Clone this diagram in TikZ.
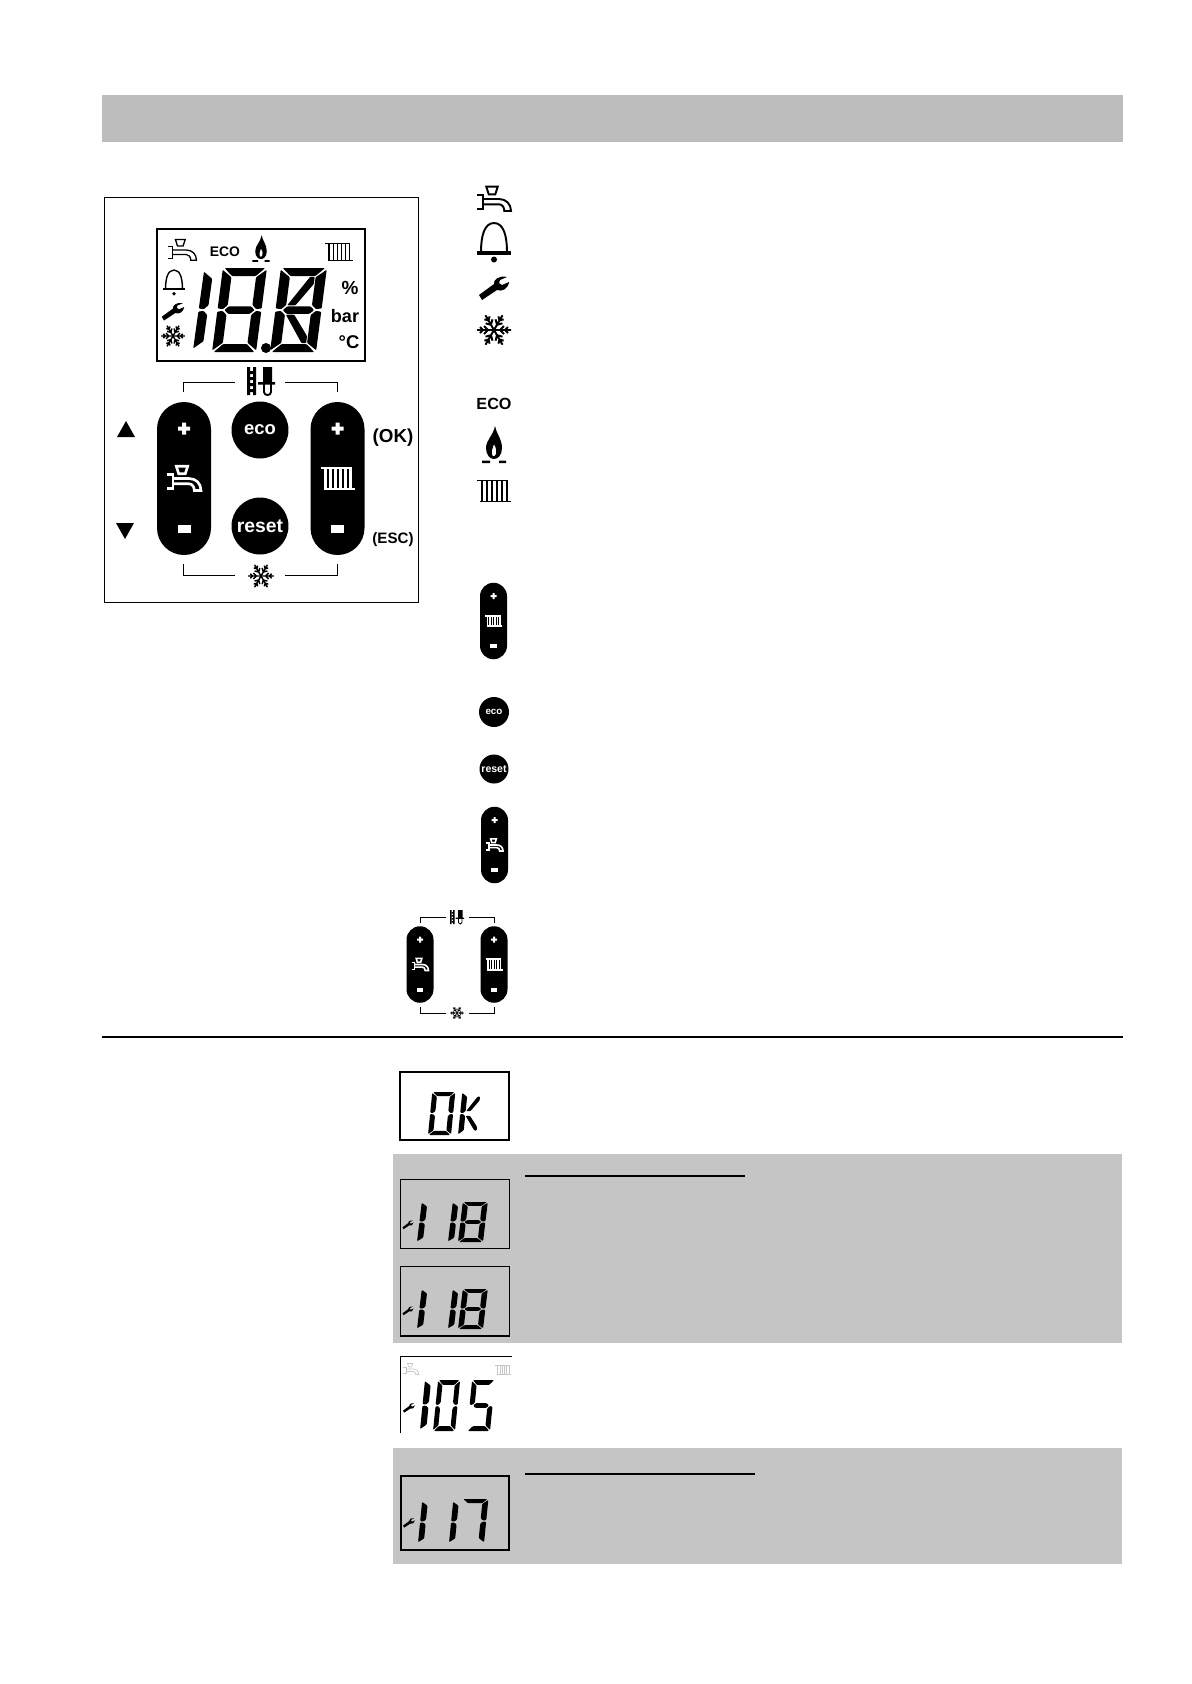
\documentclass[tikz,border=0pt]{standalone}
\usepackage{fontspec}
\setmainfont{Liberation Sans}
\usetikzlibrary{positioning}

\definecolor{barGrey}{HTML}{BDBDBD}
\definecolor{panelGrey}{HTML}{C5C5C5}

\tikzset{
    lcdframe/.style     = {draw=black, line width=1.1pt},
    thinframe/.style    = {draw=black, line width=0.45pt},
    iconline/.style     = {line width=1.1pt},
    keycirc/.style      = {circle, fill=black, text=white, inner sep=0pt, font=\bfseries},
    labeltext/.style    = {inner sep=0pt, font=\bfseries},
    % the seven segments, plus two diagonals, of a unit digit 1 wide, 2 high
    sega/.pic = {\fill (.04,2) -- (.96,2) -- (.77,1.81) -- (.23,1.81) -- cycle;},
    segb/.pic = {\fill (1,1.96) -- (1,1.04) -- (.88,1.02) -- (.78,1.12) -- (.78,1.78) -- cycle;},
    segc/.pic = {\fill (1,.96) -- (.88,.98) -- (.78,.88) -- (.78,.22) -- (1,.04) -- cycle;},
    segd/.pic = {\fill (.04,0) -- (.96,0) -- (.77,.19) -- (.23,.19) -- cycle;},
    sege/.pic = {\fill (0,.04) -- (.22,.22) -- (.22,.88) -- (.12,.98) -- (0,.96) -- cycle;},
    segf/.pic = {\fill (0,1.96) -- (.22,1.78) -- (.22,1.12) -- (.12,1.02) -- (0,1.04) -- cycle;},
    segg/.pic = {\fill (.16,1) -- (.25,1.09) -- (.75,1.09) -- (.84,1) -- (.75,.91) -- (.25,.91) -- cycle;},
    segh/.pic = {\fill (.24,1.11) -- (.42,1.11) -- (.76,1.62) -- (.76,1.79) -- (.66,1.79) -- cycle;},
    segi/.pic = {\fill (.24,.89) -- (.42,.89) -- (.76,.38) -- (.76,.21) -- (.66,.21) -- cycle;},
    % icons, drawn 34 wide round their centre
    tap/.pic = {
        \draw (-7.7,-12.3) -- (3.7,-12.3) -- (1.3,-4.7) -- (-5.3,-4.7) -- cycle;
        \draw (-17,-4) -- (-11,-4) -- (-11,9.7) -- (-17,9.7);
        \draw (-11,0) -- (5,0) .. controls (12,0) and (17,5) .. (17,12) -- (10.3,12)
              .. controls (10.3,8) and (8,5.3) .. (5,5.3) -- (-11,5.3);
    },
    bell/.pic = {
        \draw (-13,9) .. controls (-13,-6) and (-10,-20) .. (0,-20)
              .. controls (10,-20) and (13,-6) .. (13,9);
        \fill (-17,8) rectangle (17,11.5);
        \fill (0,16.5) circle (3);
    },
    wrench/.pic = {
        \fill (-15,9) -- (-12,14) -- (3,4) .. controls (8,6) and (14,3) .. (15,-4) -- (8,-1)
              -- (5,-3) -- (6,-6) -- (13,-9) .. controls (5,-11) and (-1,-6) .. (0,-2) -- cycle;
    },
    snow/.pic = {
        \foreach \ang in {0,60,...,300} {
            \draw[rotate=\ang] (0,0) -- (17,0) (6,0) -- (10,4) (6,0) -- (10,-4)
                               (11,0) -- (14,3) (11,0) -- (14,-3);
        }
    },
    flame/.pic = {
        \fill[even odd rule] (1,-19) .. controls (2,-12) and (8,-6) .. (8,3)
              .. controls (8,10) and (4,14) .. (0,14) .. controls (-4,14) and (-8,10) .. (-8,3)
              .. controls (-8,-5) and (-1,-9) .. (1,-19) -- cycle
              (0,-1) .. controls (2,3) and (3,6) .. (2,9) .. controls (1,12) and (-2,12) .. (-2,9)
              .. controls (-3,6) and (-1,3) .. (0,-1) -- cycle;
        \fill (-12,15.5) rectangle (-4,18) (5,15.5) rectangle (12,18);
    },
    radiator/.pic = {
        \draw (-17,-10.5) -- (14,-10.5) (-14,10.5) -- (17,10.5);
        \foreach \xr in {-12,-7,-2,3,8,13} {
            \draw (\xr,-10.5) -- (\xr,10.5);
        }
    },
    brush/.pic = {
        \fill (-14,-14) rectangle (-11,14) (-8,-14) rectangle (-5,14);
        \fill (-11,-10) rectangle (-8,-7) (-11,-4) rectangle (-8,-1)
              (-11,2) rectangle (-8,5) (-11,8) rectangle (-8,11);
        \fill (2,-14) rectangle (11,2) (-3,1) rectangle (14,3.5);
        \draw (3,3) -- (3,11) .. controls (3,15) and (10,15) .. (10,11) -- (10,3);
    },
    % black key, white plus on top, white minus below, an icon between
    pill/.pic = {
        \fill[black] (-27,-49.5) arc[start angle=180, end angle=360, radius=27] -- (27,49.5)
                     arc[start angle=0, end angle=180, radius=27] -- cycle;
        \fill[white] (-2,-56) rectangle (2,-44) (-6,-52) rectangle (6,-48);
        \fill[white] (-6.5,46) rectangle (6.5,54);
        \pic[white, transform shape] at (0,0) {#1};
    },
}

% left, bottom, width, height, slant, segments
\newcommand{\lcddigit}[6]{
    \begin{scope}[shift={(#1,#2)}, x=#3*0.02cm, y=#4*0.01cm, xslant=#5, rounded corners=0.5pt]
        \foreach \s in {#6} {\pic[transform shape] {seg\s};}
    \end{scope}
}

\begin{document}
\begin{tikzpicture}[x=0.02cm, y=-0.02cm]
    \useasboundingbox (0,0) rectangle (1191,1684);

    \fill       [barGrey]           (102,95) rectangle (1123,142);      % Top bar
    \draw       [thinframe]         (104,197) rectangle (418,602);      % Panel frame

    % Display of the panel
    \draw       [lcdframe]          (157,229) rectangle (365,361);
    \pic        [line width=0.75pt, scale=.85]          at (182,250) {tap};
    \pic        [line width=0.8pt, scale=.65]           at (174,283) {bell};
    \pic        [scale=.75]                             at (173,310) {wrench};
    \pic        [line width=0.8pt, scale=.7]            at (173,336) {snow};
    \pic        [scale=.72]                             at (261,249) {flame};
    \pic        [line width=0.8pt, scale=.82]           at (339,252) {radiator};
    \node       [labeltext, font=\bfseries\fontsize{7.9}{9}\selectfont] (lcdeco)  at (225,252) {ECO};
    \node       [labeltext, font=\bfseries\fontsize{10.8}{12}\selectfont] (lcdpct) at (350,288) {\%};
    \node       [labeltext, font=\bfseries\fontsize{10.3}{12}\selectfont] (lcdbar) at (345,316) {bar};
    \node       [labeltext, font=\bfseries\fontsize{10.5}{12}\selectfont] (lcddeg) at (349,342) {°C};
    \lcddigit{193}{350}{42}{80}{.14}{e,f}
    \lcddigit{212}{352}{44}{84}{.13}{a,b,c,d,e,f,g}
    \lcddigit{270}{352}{46}{84}{.13}{a,b,c,d,e,f,g,h,i}
    \fill                           (266,348) circle (5);               % Decimal point

    % Keys of the panel
    \pic        [line width=1.5pt] at (184,478.5) {pill=tap};
    \pic        [line width=1.6pt] at (337.5,478.5) {pill=radiator};
    \node       [keycirc, minimum size=1.14cm, font=\bfseries\fontsize{10.5}{12}\selectfont] (ecokey)   at (260,430) {\raisebox{-1pt}{eco}};
    \node       [keycirc, minimum size=1.14cm, font=\bfseries\fontsize{11}{12}\selectfont]   (resetkey) at (260,526) {reset};

    \draw       [thinframe]         (183,392) -- (183,382) -- (235,382);    % Upper bracket
    \draw       [thinframe]         (285,382) -- (337,382) -- (337,392);
    \draw       [thinframe]         (183,564) -- (183,575) -- (235,575);    % Lower bracket
    \draw       [thinframe]         (285,575) -- (337,575) -- (337,564);
    \pic        [line width=1.1pt]  at (261,381) {brush};
    \pic        [line width=0.8pt, scale=.76] at (261,576) {snow};

    \fill                           (117,437) -- (135,437) -- (126,421) -- cycle;   % Arrow up
    \fill                           (116,523) -- (134,523) -- (125,539) -- cycle;   % Arrow down
    \node       [labeltext, font=\bfseries\fontsize{10.7}{12}\selectfont] (oklabel)  at (393,438) {(OK)};
    \node       [labeltext, font=\bfseries\fontsize{8.6}{10}\selectfont]  (esclabel) at (393,540) {(ESC)};

    % Column of symbols
    \pic        [iconline]          at (494,199) {tap};
    \pic        [iconline]          at (494,243) {bell};
    \pic        at (494,286) {wrench};
    \pic        [iconline]          at (494,330) {snow};
    \node       [labeltext, font=\bfseries\fontsize{9.2}{11}\selectfont] (coleco) at (494,404) {ECO};
    \pic        at (494,445) {flame};
    \pic        [iconline]          at (494,491) {radiator};

    \pic        [line width=0.9pt, scale=.5] at (493.5,621) {pill=radiator};
    \node       [keycirc, minimum size=0.6cm, font=\bfseries\fontsize{5.6}{7}\selectfont] (colecokey)   at (494,712) {eco};
    \node       [keycirc, minimum size=0.58cm, font=\bfseries\fontsize{6}{7}\selectfont]  (colresetkey) at (494,769) {reset};
    \pic        [line width=0.9pt, scale=.5] at (494.5,845) {pill=tap};

    \pic        [line width=0.9pt, scale=.5] at (420,964.5) {pill=tap};
    \pic        [line width=0.9pt, scale=.5] at (494,964.5) {pill=radiator};
    \draw       [thinframe]         (420,923) -- (420,917) -- (446,917);    % Small upper bracket
    \draw       [thinframe]         (469,917) -- (494,917) -- (494,923);
    \draw       [thinframe]         (420,1007) -- (420,1013) -- (446,1013); % Small lower bracket
    \draw       [thinframe]         (469,1013) -- (494,1013) -- (494,1007);
    \pic        [line width=0.5pt, scale=.5]  at (457,917)  {brush};
    \pic        [line width=0.4pt, scale=.4]  at (457,1013) {snow};

    \draw       [line width=1pt]    (102,1037) -- (1123,1037);          % Rule

    % Lower part
    \fill       [panelGrey]         (393,1154) rectangle (1122,1343);
    \fill       [panelGrey]         (393,1448) rectangle (1122,1564);
    \draw       [line width=1.4pt]  (525,1176) -- (745,1176);
    \draw       [line width=1.4pt]  (525,1474) -- (755,1474);

    \draw       [lcdframe]          (400,1072) rectangle (509,1140);    % OK
    \lcddigit{428}{1135}{23}{43}{.1}{a,b,c,d,e,f}
    \lcddigit{458}{1135}{24}{43}{.1}{e,f,h,i}

    \draw       [thinframe]         (400,1179) rectangle (509,1248);    % 118
    \pic        [scale=.37]         at (408,1224) {wrench};
    \lcddigit{417}{1242}{26}{40}{.12}{e,f}
    \lcddigit{448}{1242}{26}{40}{.12}{e,f}
    \lcddigit{458}{1242}{25}{40}{.12}{a,b,c,d,e,f,g}

    \draw       [thinframe]         (400,1266) rectangle (509,1336);    % 118 again
    \draw       [lcdframe]          (400,1336) -- (509,1336);
    \pic        [scale=.37]         at (408,1310) {wrench};
    \lcddigit{417}{1329}{26}{40}{.12}{e,f}
    \lcddigit{448}{1329}{26}{40}{.12}{e,f}
    \lcddigit{458}{1329}{25}{40}{.12}{a,b,c,d,e,f,g}

    \draw       [thinframe]         (400,1433) -- (400,1356) -- (512,1356);     % 105
    \pic        [gray!45, line width=0.4pt, scale=.45] at (411,1369) {tap};
    \pic        [gray!45, line width=0.4pt, scale=.45] at (503,1370) {radiator};
    \pic        [scale=.4]          at (409,1407) {wrench};
    \lcddigit{420}{1430}{28}{50}{.1}{e,f}
    \lcddigit{433}{1431}{22}{51}{.1}{a,b,c,d,e,f}
    \lcddigit{467}{1431}{23}{51}{.1}{a,c,d,f,g}

    \draw       [lcdframe]          (401,1476) rectangle (509,1550);    % 117
    \pic        [scale=.4]          at (409,1522) {wrench};
    \lcddigit{418}{1543}{26}{42}{.1}{e,f}
    \lcddigit{449}{1543}{26}{42}{.1}{e,f}
    \lcddigit{458}{1543}{26}{44}{.1}{a,b,c}
\end{tikzpicture}
\end{document}
